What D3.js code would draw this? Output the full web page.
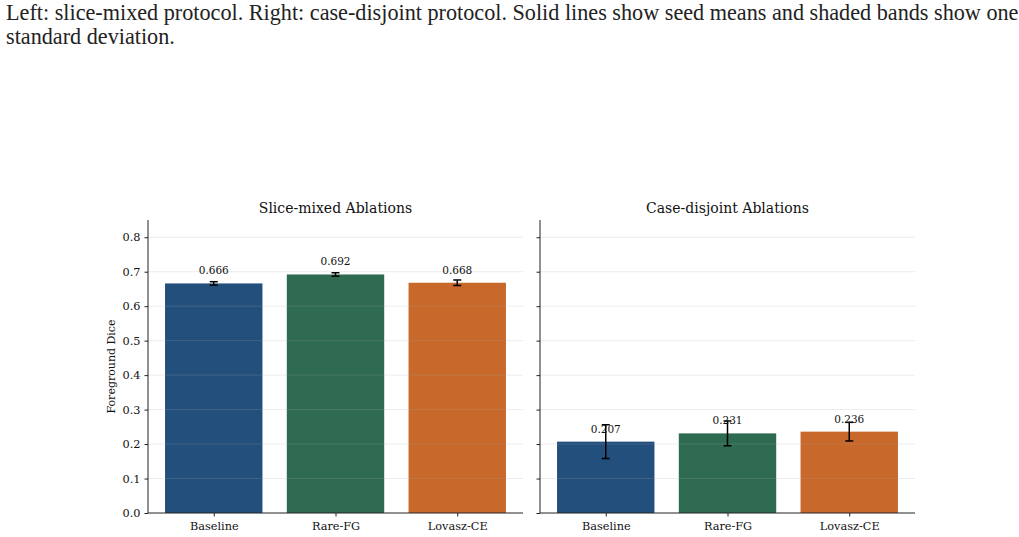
<!DOCTYPE html>
<html>
<head>
<meta charset="utf-8">
<script src="https://cdn.jsdelivr.net/npm/d3@7"></script>
<style>
  body { margin: 0; background: #fff; }
  .caption { position: absolute; left: 6px; top: 1px; width: 1015px; font-family: "Liberation Serif", serif; font-size: 22.2px; line-height: 24px; color: #222; white-space: nowrap; }
  svg text { font-family: "DejaVu Serif", serif; }
</style>
</head>
<body>
<div class="caption">Left: slice-mixed protocol. Right: case-disjoint protocol. Solid lines show seed means and shaded bands show one<br>standard deviation.</div>
<svg id="chart" width="1019" height="537"></svg>
<script>
var methods = ['Baseline', 'Rare-FG', 'Lovasz-CE'];
var bar_colors = ['#234f7c', '#2e6b50', '#c8692b'];
var yTicks = [0.0, 0.1, 0.2, 0.3, 0.4, 0.5, 0.6, 0.7, 0.8];

var mixed_mean = [0.666, 0.692, 0.668];
var mixed_std = [0.005, 0.005, 0.008];
var disjoint_mean = [0.207, 0.231, 0.236];
var disjoint_std = [0.049, 0.036, 0.027];

var panels = [
  {title: 'Slice-mixed Ablations', mean: mixed_mean, std: mixed_std, left: 148, showY: true},
  {title: 'Case-disjoint Ablations', mean: disjoint_mean, std: disjoint_std, left: 540, showY: false}
];

var svg = d3.select('#chart');
var top_y = 220, bottom_y = 513, width = 375;

var y = d3.scaleLinear().domain([0, 0.85]).range([bottom_y, top_y]);

panels.forEach(function (p) {
  var g = svg.append('g').attr('transform', 'translate(' + p.left + ',0)');

  // categorical scale, matplotlib style: bars of 0.8 with 5% margins
  var x = d3.scaleLinear().domain([-0.54, 2.54]).range([0, width]);

  g.selectAll('rect.bar')
    .data(p.mean)
    .enter().append('rect')
      .attr('class', 'bar')
      .attr('x', function (d, i) { return x(i - 0.4); })
      .attr('width', x(0.4) - x(-0.4))
      .attr('y', function (d) { return y(d); })
      .attr('height', function (d) { return y(0) - y(d); })
      .attr('fill', function (d, i) { return bar_colors[i]; });

  // grid lines on top of bars
  g.selectAll('line.grid')
    .data(yTicks.slice(1))
    .enter().append('line')
      .attr('x1', 0).attr('x2', width)
      .attr('y1', function (d) { return y(d); })
      .attr('y2', function (d) { return y(d); })
      .attr('stroke', 'rgb(170,170,170)')
      .attr('stroke-opacity', 0.22)
      .attr('stroke-width', 1);

  // error bars
  var eb = g.selectAll('g.err')
    .data(p.mean)
    .enter().append('g')
      .attr('class', 'err');
  eb.append('line')
    .attr('x1', function (d, i) { return x(i); })
    .attr('x2', function (d, i) { return x(i); })
    .attr('y1', function (d, i) { return y(d - p.std[i]); })
    .attr('y2', function (d, i) { return y(d + p.std[i]); });
  [-1, 1].forEach(function (s) {
    eb.append('line')
      .attr('x1', function (d, i) { return x(i) - 4; })
      .attr('x2', function (d, i) { return x(i) + 4; })
      .attr('y1', function (d, i) { return y(d + s * p.std[i]); })
      .attr('y2', function (d, i) { return y(d + s * p.std[i]); });
  });
  eb.selectAll('line').attr('stroke', '#000').attr('stroke-width', 1.5);

  // value labels
  g.selectAll('text.val')
    .data(p.mean)
    .enter().append('text')
      .attr('class', 'val')
      .attr('x', function (d, i) { return x(i); })
      .attr('y', function (d) { return y(d) - 9; })
      .attr('text-anchor', 'middle')
      .attr('font-size', 10.5)
      .attr('fill', '#111')
      .text(function (d) { return d.toFixed(3); });

  // axes
  var yAxis = d3.axisLeft(y).tickValues(yTicks).tickSize(3.5).tickPadding(4)
    .tickFormat(p.showY ? d3.format('.1f') : '');
  var ya = g.append('g').call(yAxis);
  ya.select('.domain').attr('d', 'M0,' + top_y + 'V' + bottom_y);

  var xAxis = d3.axisBottom(x).tickValues([0, 1, 2]).tickSize(3.5).tickPadding(5)
    .tickFormat(function (d) { return methods[d]; });
  var xa = g.append('g').attr('transform', 'translate(0,' + bottom_y + ')').call(xAxis);
  xa.select('.domain').attr('d', 'M0,0H' + width);

  [ya, xa].forEach(function (a) {
    a.selectAll('text').attr('font-family', 'DejaVu Serif').attr('font-size', 11.3).attr('fill', '#111');
    a.select('.domain').attr('stroke', '#222').attr('stroke-width', 1);
    a.selectAll('.tick line').attr('stroke', '#222');
  });

  g.append('text')
    .attr('x', width / 2)
    .attr('y', 213)
    .attr('text-anchor', 'middle')
    .attr('font-size', 14)
    .attr('fill', '#111')
    .text(p.title);
});

svg.append('text')
  .attr('transform', 'translate(115,' + ((top_y + bottom_y) / 2) + ') rotate(-90)')
  .attr('text-anchor', 'middle')
  .attr('font-size', 11)
  .attr('fill', '#111')
  .text('Foreground Dice');
</script>
</body>
</html>
